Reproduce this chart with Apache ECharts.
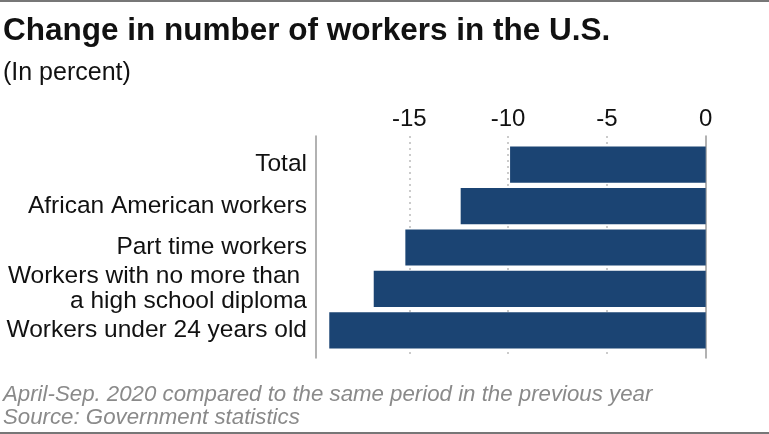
<!DOCTYPE html>
<html><head><meta charset="utf-8">
<script src="https://cdn.jsdelivr.net/npm/echarts@6/dist/echarts.min.js"></script>
<style>html,body{margin:0;padding:0;background:#fff}#c{width:769px;height:434px}</style>
</head><body><div id="c"></div>
<script>
const categories = ["Total", "African American workers", "Part time workers", "Workers with no more than \na high school diploma", "Workers under 24 years old"];
const values = [-9.9, -12.4, -15.2, -16.8, -19.05];
const tickValues = [-20, -15, -10, -5, 0];

const chart = echarts.init(document.getElementById('c'));
const font = "Liberation Sans, Arial, sans-serif";
chart.setOption({
  animation: false,
  backgroundColor: '#fff',
  title: [
    {text: 'Change in number of workers in the U.S.', left: 3, top: 15, padding: 0,
     textStyle: {fontFamily: font, fontSize: 31.5, fontWeight: 'bold', color: '#111'}},
    {text: '(In percent)', left: 3, top: 61, padding: 0,
     textStyle: {fontFamily: font, fontSize: 25, fontWeight: 'normal', color: '#111'}},
    {text: 'April-Sep. 2020 compared to the same period in the previous year\nSource: Government statistics', left: 3, top: 383, padding: 0,
     textStyle: {fontFamily: font, fontSize: 22.25, fontStyle: 'italic', fontWeight: 'normal', color: '#8a8a8a', lineHeight: 23}}
  ],
  graphic: [
    {type: 'rect', shape: {x: 0, y: 0, width: 769, height: 2}, style: {fill: '#777'}},
    {type: 'rect', shape: {x: 0, y: 432, width: 769, height: 2}, style: {fill: '#777'}}
  ],
  grid: [
    {left: 310.5, right: 63.3, top: 136, bottom: 76},
    {left: 310.5, right: 63.3, top: 144, height: 207}
  ],
  xAxis: [
    {type: 'value', gridIndex: 0, position: 'top', min: -20, max: 0, interval: 5,
     axisLine: {show: false}, axisTick: {show: false},
     axisLabel: {margin: 5, fontFamily: font, fontSize: 24, color: '#111',
       formatter: v => v === -20 ? '' : String(v)},
     splitLine: {show: true, showMinLine: false, showMaxLine: false,
       lineStyle: {type: [2, 4], color: '#bbb', width: 1.5}}},
    {type: 'value', gridIndex: 1, min: -20, max: 0, show: false}
  ],
  yAxis: [
    {type: 'category', gridIndex: 0, data: categories, inverse: true, offset: -5.5,
     axisLine: {show: true, onZero: false, lineStyle: {color: '#999', width: 1.5}}, axisTick: {show: false}, axisLabel: {show: false}},
    {type: 'category', gridIndex: 0, data: categories, inverse: true, position: 'right',
     axisLine: {show: true, onZero: false, lineStyle: {color: '#999', width: 1.5}}, axisTick: {show: false}, axisLabel: {show: false}},
    {type: 'category', gridIndex: 1, data: categories, inverse: true, offset: -5.5,
     axisLine: {show: false, onZero: false}, axisTick: {show: false},
     axisLabel: {margin: 9, fontFamily: font, fontSize: 24.5, color: '#111', lineHeight: 25, align: 'right'}}
  ],
  series: [{
    type: 'bar', xAxisIndex: 1, yAxisIndex: 2, data: values,
    barCategoryGap: '12.5%', itemStyle: {color: '#1b4473'}, silent: true
  }]
});
</script></body></html>
